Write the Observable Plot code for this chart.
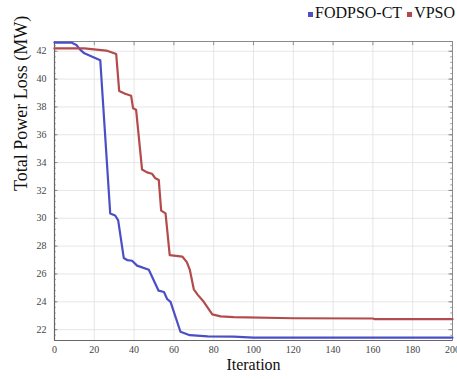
<!DOCTYPE html>
<html>
<head>
<meta charset="utf-8">
<script src="https://cdn.jsdelivr.net/npm/d3@7"></script>
<script src="https://cdn.jsdelivr.net/npm/@observablehq/plot@0.6"></script>
<style>
  html, body { margin: 0; padding: 0; background: #fff; }
  #wrap { position: relative; width: 457px; height: 379px; overflow: hidden; }
  #legend { position: absolute; top: 4px; left: 308px; font-family: "Liberation Serif", "Times New Roman", serif; font-size: 16px; color: #111; white-space: nowrap; }
  #legend .sw { display: inline-block; width: 5px; height: 5px; margin-right: 2px; vertical-align: 1px; }
  #legend .item { margin-right: 5px; }
  svg { position: absolute; top: 0; left: 0; }
</style>
</head>
<body>
<div id="wrap">
  <div id="legend"></div>
</div>
<script>
// Series names and colours
const seriesNames = ["FODPSO-CT", "VPSO"];
const seriesColors = ["#4a4fc6", "#b34b4c"];

// FODPSO-CT: iteration / total power loss (MW)
const fodIter = [0, 8.5, 11, 13, 15, 19, 23, 28, 30.5, 32, 34.8, 36.5, 39, 41.5, 47.4, 52.3, 55, 56.6, 58.3, 63.3, 68, 77, 90, 100, 200];
const fodLoss = [42.62, 42.62, 42.45, 42.1, 41.85, 41.6, 41.35, 30.35, 30.2, 29.85, 27.15, 27.0, 26.95, 26.6, 26.3, 24.8, 24.7, 24.2, 24.0, 21.85, 21.6, 21.52, 21.5, 21.43, 21.43];

// VPSO: iteration / total power loss (MW)
const vpsoIter = [0, 15, 26, 30, 31, 32.5, 35.5, 38.5, 39.5, 41, 44, 46.5, 49, 50.7, 52.4, 53.6, 55.8, 57.9, 64.2, 66.5, 68, 70, 72, 75, 79.3, 83.5, 90, 120, 160, 161, 200];
const vpsoLoss = [42.2, 42.2, 42.05, 41.85, 41.8, 39.15, 38.95, 38.8, 37.9, 37.8, 33.5, 33.3, 33.2, 32.87, 32.75, 30.55, 30.35, 27.35, 27.25, 26.85, 26.3, 24.9, 24.5, 24.0, 23.1, 22.95, 22.9, 22.82, 22.8, 22.75, 22.75];

// Axis ticks and labels
const xTicks = [0, 20, 40, 60, 80, 100, 120, 140, 160, 180, 200];
const yTicks = [22, 24, 26, 28, 30, 32, 34, 36, 38, 40, 42];
const yMinor = d3.range(21.6, 42.7, 0.4).map(v => +v.toFixed(1));
const xLabel = ["Iteration"];
const yLabel = ["Total Power Loss (MW)"];

const data = [
  ...fodIter.map((x, i) => ({series: seriesNames[0], x, y: fodLoss[i]})),
  ...vpsoIter.map((x, i) => ({series: seriesNames[1], x, y: vpsoLoss[i]}))
];

const serif = "'Liberation Serif', 'Times New Roman', serif";

const chart = Plot.plot({
  width: 457,
  height: 379,
  marginTop: 41,
  marginBottom: 39,
  marginLeft: 54,
  marginRight: 5,
  style: { fontFamily: serif, background: "transparent", overflow: "visible" },
  x: { domain: [0, 200] },
  y: { domain: [21.22, 42.7] },
  color: { domain: seriesNames, range: seriesColors },
  marks: [
    Plot.gridX(xTicks, { stroke: "#e0e0e0", strokeOpacity: 1, strokeWidth: 0.8 }),
    Plot.gridY(yTicks, { stroke: "#e0e0e0", strokeOpacity: 1, strokeWidth: 0.8 }),
    // inward minor/major ticks on left and right
    Plot.ruleY(yMinor, { x1: 0, x2: 0.9, stroke: "#777", strokeWidth: 0.7 }),
    Plot.ruleY(yMinor, { x1: 199.1, x2: 200, stroke: "#777", strokeWidth: 0.7 }),
    Plot.ruleY(yTicks, { x1: 0, x2: 1.8, stroke: "#777", strokeWidth: 0.8 }),
    Plot.ruleY(yTicks, { x1: 198.2, x2: 200, stroke: "#777", strokeWidth: 0.8 }),
    Plot.ruleX(xTicks, { y1: 42.7, y2: 42.4, stroke: "#777", strokeWidth: 0.8 }),
    Plot.frame({ stroke: "#8a8a8a", strokeWidth: 1 }),
    Plot.ruleX([0], { stroke: "#666", strokeWidth: 1.2 }),
    Plot.ruleY([21.22], { stroke: "#666", strokeWidth: 1.2 }),
    Plot.line(data, { x: "x", y: "y", z: "series", stroke: "series", strokeWidth: 2.2, curve: "linear" }),
    Plot.axisX({ ticks: xTicks, tickSize: 0, tickPadding: 5, fontSize: 10, fontFamily: serif, color: "#444", label: null }),
    Plot.axisY({ ticks: yTicks, tickSize: 0, tickPadding: 8, fontSize: 10, fontFamily: serif, color: "#444", label: null }),
    Plot.text(xLabel, { text: d => d, frameAnchor: "bottom", dy: 29, fontSize: 16, fontFamily: serif, fill: "#111" }),
    Plot.text(yLabel, { text: d => d, frameAnchor: "left", dx: -33, rotate: -90, fontSize: 18, fontFamily: serif, fill: "#111" })
  ]
});

chart.querySelectorAll("text, g").forEach(el => { el.style.fontFamily = serif; });

const wrap = document.getElementById("wrap");
wrap.appendChild(chart);

const legend = document.getElementById("legend");
seriesNames.forEach((name, i) => {
  const item = document.createElement("span");
  item.className = "item";
  const sw = document.createElement("span");
  sw.className = "sw";
  sw.style.background = seriesColors[i];
  item.appendChild(sw);
  item.appendChild(document.createTextNode(name));
  legend.appendChild(item);
});
</script>
</body>
</html>
